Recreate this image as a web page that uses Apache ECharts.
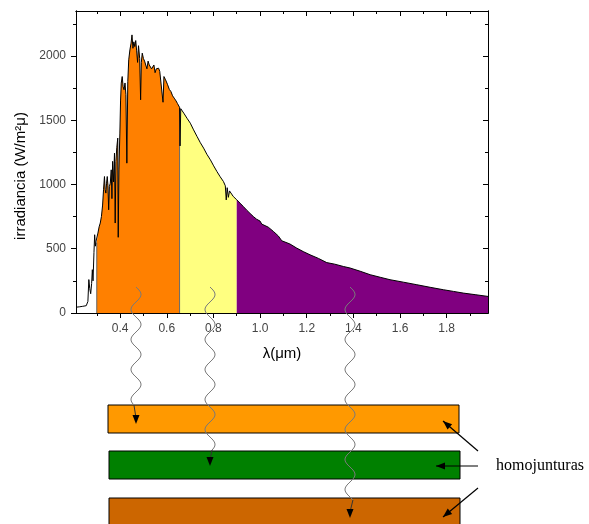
<!DOCTYPE html>
<html>
<head>
<meta charset="utf-8">
<script src="https://cdn.jsdelivr.net/npm/echarts@6/dist/echarts.min.js"></script>
<style>
  html, body { margin: 0; padding: 0; background: #fff; }
  #chart { width: 589px; height: 524px; }
</style>
</head>
<body>
<div id="chart"></div>
<script>
// spectrum (µm, W/m²µ)
const wavelength = [
  0.211, 0.225, 0.240, 0.255, 0.262, 0.266, 0.270, 0.274, 0.278, 0.281,
  0.284, 0.288, 0.291, 0.294, 0.297, 0.300, 0.305, 0.310, 0.315, 0.320,
  0.325, 0.329, 0.333, 0.336, 0.339, 0.342, 0.345, 0.348, 0.351, 0.354,
  0.358, 0.362, 0.365, 0.368, 0.372, 0.376, 0.379, 0.382, 0.386, 0.390,
  0.392, 0.395, 0.399, 0.402, 0.405, 0.409, 0.413, 0.417, 0.421, 0.425,
  0.429, 0.433, 0.437, 0.442, 0.447, 0.451, 0.455, 0.459, 0.463, 0.467,
  0.471, 0.475, 0.479, 0.484, 0.488, 0.491, 0.495, 0.500, 0.505, 0.510,
  0.515, 0.520, 0.525, 0.530, 0.535, 0.540, 0.545, 0.550, 0.555, 0.560,
  0.565, 0.570, 0.578, 0.584, 0.588, 0.595, 0.603, 0.611, 0.618, 0.625,
  0.632, 0.640, 0.646, 0.652, 0.655, 0.657, 0.660, 0.673, 0.687, 0.701,
  0.715, 0.730, 0.744, 0.758, 0.772, 0.787, 0.801, 0.815, 0.829, 0.843,
  0.851, 0.855, 0.859, 0.864, 0.869, 0.885, 0.900, 0.914, 0.928, 0.943,
  0.957, 0.971, 0.985, 1.000, 1.007, 1.014, 1.035, 1.057, 1.078, 1.093,
  1.100, 1.128, 1.157, 1.185, 1.214, 1.250, 1.286, 1.290, 1.320, 1.357,
  1.386, 1.429, 1.472, 1.515, 1.557, 1.614, 1.672, 1.729, 1.786, 1.829,
  1.871, 1.925, 1.977
];
const irradiance = [
  45, 48, 52, 57, 90, 260, 190, 150, 230, 337,
  250, 470, 609, 520, 560, 547, 622, 670, 700, 751,
  840, 959, 1062, 960, 933, 1010, 1062, 990, 803, 984,
  1010, 1114, 890, 1180, 1020, 1244, 700, 1180, 1290, 1361,
  589, 1120, 1400, 1650, 1789, 1840, 1760, 1737, 1790, 1700,
  1166, 1800, 1970, 2047, 2100, 2164, 2060, 2110, 2073, 2120,
  2040, 1950, 2080, 1980, 1659, 1950, 2022, 1980, 1960, 1970,
  1900, 1960, 1930, 1944, 1900, 1892, 1930, 1870, 1900, 1890,
  1905, 1880, 1870, 1640, 1840, 1814, 1780, 1740, 1723, 1690,
  1672, 1650, 1630, 1615, 1600, 1300, 1590, 1555, 1515, 1477,
  1425, 1373, 1325, 1283, 1235, 1192, 1145, 1101, 1060, 1023,
  990, 880, 975, 900, 950, 907, 881, 855, 829, 800,
  775, 751, 730, 715, 692, 700, 668, 635, 600, 562,
  575, 537, 505, 478, 453, 425, 392, 401, 380, 362,
  350, 325, 298, 278, 259, 240, 220, 200, 181, 168,
  155, 142, 129
];

const bandEdges = [0.3, 0.655, 0.9, 1.977];
const bandColors = ['#FF8000', '#FFFF80', '#800080'];

const xMin = 0.211;
const xMax = 1.977;
const yMax = 2350;
const xLabelTicks = [0.4, 0.6, 0.8, 1.0, 1.2, 1.4, 1.6, 1.8];
const xMinorTicks = [0.3, 0.5, 0.7, 0.9, 1.1, 1.3, 1.5, 1.7, 1.9];
const yLabelTicks = [0, 500, 1000, 1500, 2000];
const yMinorTicks = [250, 750, 1250, 1750, 2250];

// the cell stack below the plot
const layerColors = ['#FF9900', '#008000', '#CC6600'];
const layerLabel = 'homojunturas';

const chart = echarts.init(document.getElementById('chart'));

const points = wavelength.map((w, i) => [w, irradiance[i]]);

const bandSeries = bandColors.map((c, k) => ({
  type: 'line',
  data: points.filter(p => p[0] >= bandEdges[k] && p[0] <= bandEdges[k + 1]),
  showSymbol: false,
  lineStyle: { width: 0 },
  areaStyle: { color: c, opacity: 1 },
  z: 2
}));

const edgeSeries = [bandEdges[0], bandEdges[1]].map(e => ({
  type: 'line',
  data: [[e, 0], [e, irradiance[wavelength.indexOf(e)]]],
  showSymbol: false,
  lineStyle: { color: '#666', width: 1 },
  z: 3
}));

const black = { color: '#000', width: 1 };
const labelFont = { color: '#444', fontSize: 12, fontFamily: 'Liberation Sans' };

function xAx(pos, ticks, len, inside, labels) {
  return {
    type: 'value', min: xMin, max: xMax, position: pos,
    axisLine: { show: true, onZero: false, lineStyle: black },
    axisTick: { show: true, inside: inside, length: len, customValues: ticks, lineStyle: black },
    axisLabel: labels ? Object.assign({ customValues: ticks, margin: 10, formatter: v => v.toFixed(1) }, labelFont) : { show: false },
    splitLine: { show: false }
  };
}
function yAx(pos, ticks, len, inside, labels) {
  return {
    type: 'value', min: 0, max: yMax, position: pos,
    axisLine: { show: true, onZero: false, lineStyle: black },
    axisTick: { show: true, inside: inside, length: len, customValues: ticks, lineStyle: black },
    axisLabel: labels ? Object.assign({ customValues: ticks, margin: 10, formatter: v => String(v) }, labelFont) : { show: false },
    splitLine: { show: false }
  };
}

const xMain = xAx('bottom', xLabelTicks, 5, false, true);
xMain.name = 'λ(μm)';
xMain.nameLocation = 'middle';
xMain.nameGap = 33;
xMain.nameTextStyle = { color: '#000', fontSize: 15, fontFamily: 'Liberation Sans' };

const yMain = yAx('left', yLabelTicks, 5, false, true);
yMain.name = 'irradiancia (W/m²μ)';
yMain.nameLocation = 'middle';
yMain.nameGap = 46;
yMain.nameTextStyle = { color: '#000', fontSize: 15, fontFamily: 'Liberation Sans', padding: [0, 28, 0, 0] };

// wavy photon paths with arrow heads
function wave(cx, yTop, yEnd) {
  const pts = [];
  for (let y = yTop; y <= yEnd; y++) pts.push([cx + 5 * Math.sin((y - yTop) / 15 * Math.PI), y]);
  return pts;
}
function head(x, y, ang) {
  const l = 9, w = 3.5;
  const bx = x - l * Math.cos(ang), by = y - l * Math.sin(ang);
  const nx = -Math.sin(ang) * w, ny = Math.cos(ang) * w;
  return { type: 'polygon', z: 100, shape: { points: [[x, y], [bx + nx, by + ny], [bx - nx, by - ny]] }, style: { fill: '#000' } };
}
function arrow(x1, y1, x2, y2) {
  const ang = Math.atan2(y2 - y1, x2 - x1);
  return [
    { type: 'line', z: 100, shape: { x1: x1, y1: y1, x2: x2, y2: y2 }, style: { stroke: '#000', lineWidth: 1.2 } },
    head(x2, y2, ang)
  ];
}
const photons = [[136, 405, 424], [210, 450, 466], [350, 500, 518]];
const photonGraphics = [];
photons.forEach(([cx, yEnd, tip]) => {
  const pts = wave(cx, 287, yEnd);
  const last = pts[pts.length - 1];
  photonGraphics.push({ type: 'polyline', z: 100, shape: { points: pts }, style: { stroke: '#7a7a7a', lineWidth: 1, fill: null } });
  photonGraphics.push({ type: 'line', z: 100, shape: { x1: last[0], y1: last[1], x2: cx, y2: tip - 6 }, style: { stroke: '#333', lineWidth: 1 } });
  photonGraphics.push(head(cx, tip, Math.PI / 2));
});

const layerRects = [[108, 405, 351, 28], [109, 451, 351, 28], [109, 498, 351, 40]];
const layerGraphics = layerRects.map((r, i) => ({
  type: 'rect', z: 90,
  shape: { x: r[0], y: r[1], width: r[2], height: r[3] },
  style: { fill: layerColors[i], stroke: '#000', lineWidth: 1 }
}));

chart.setOption({
  animation: false,
  backgroundColor: '#fff',
  grid: { left: 76, right: 101, top: 11, bottom: 211, containLabel: false },
  xAxis: [
    xMain,
    xAx('bottom', xMinorTicks, 3, false, false),
    xAx('top', xLabelTicks, 5, true, false),
    xAx('top', xMinorTicks, 3, true, false)
  ],
  yAxis: [
    yMain,
    yAx('left', yMinorTicks, 3, false, false),
    yAx('right', yLabelTicks, 5, true, false),
    yAx('right', yMinorTicks, 3, true, false)
  ],
  series: [
    ...bandSeries,
    ...edgeSeries,
    {
      type: 'line',
      data: points,
      showSymbol: false,
      lineStyle: { color: '#000', width: 1 },
      z: 4
    }
  ],
  graphic: [
    ...layerGraphics,
    ...photonGraphics,
    ...arrow(478, 451, 443, 421),
    ...arrow(478, 466, 436, 466),
    ...arrow(478, 488, 443, 517),
    {
      type: 'text', z: 100, x: 496, y: 466,
      style: { text: layerLabel, fill: '#000', font: '16px "Liberation Serif"', verticalAlign: 'middle' }
    }
  ]
});
</script>
</body>
</html>
